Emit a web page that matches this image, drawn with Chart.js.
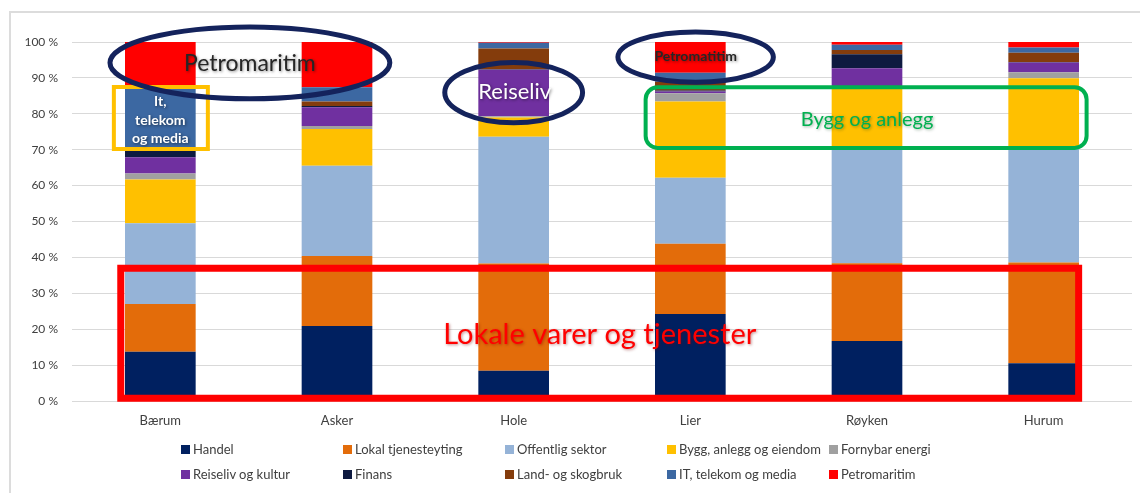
<!DOCTYPE html>
<html>
<head>
<meta charset="utf-8">
<script src="https://cdn.jsdelivr.net/npm/chart.js@4"></script>
<style>
  html, body { margin: 0; padding: 0; background: #ffffff; }
  #wrap { position: relative; width: 1140px; height: 493px; overflow: hidden; }
  #c { position: absolute; left: 0; top: 0; }
  #legend { position: absolute; left: 0; top: 0; width: 1140px; height: 493px; pointer-events: none; }
  .li { position: absolute; display: flex; align-items: center; font-family: Lato, "Open Sans", sans-serif; font-size: 13px; color: #404040; white-space: nowrap; height: 16px; }
  .li .bx { width: 9px; height: 9px; margin-right: 3px; flex: none; }
</style>
</head>
<body>
<div id="wrap">
  <canvas id="c" width="1140" height="493"></canvas>
  <div id="legend"></div>
</div>
<script>
// ---- Data (percent share of employment per sector) ----
const categories = ['Bærum', 'Asker', 'Hole', 'Lier', 'Røyken', 'Hurum'];
const yTicks = [0, 10, 20, 30, 40, 50, 60, 70, 80, 90, 100];

const handel    = [13.7, 20.9,  8.4, 24.2, 16.7, 10.5];
const lokal     = [13.3, 19.5, 29.9, 19.6, 21.7, 28.1];
const offentlig = [22.5, 25.1, 35.3, 18.4, 32.6, 31.8];
const bygg      = [12.2, 10.3,  5.4, 21.2, 16.5, 19.5];
const fornybar  = [ 1.7,  0.8,  0.3,  2.3,  0.2,  1.7];
const reiseliv  = [ 4.5,  5.2, 13.0,  0.5,  5.0,  2.7];
const finans    = [ 2.0,  0.4,  0.1,  0.3,  3.9,  0.1];
const land      = [ 0.4,  1.2,  5.8,  2.4,  1.2,  2.6];
const it        = [17.1,  4.0,  1.6,  2.5,  1.4,  1.5];
const petro     = [12.6, 12.6,  0.2,  8.6,  0.8,  1.5];

const seriesNames = ['Handel', 'Lokal tjenesteyting', 'Offentlig sektor', 'Bygg, anlegg og eiendom', 'Fornybar energi',
                     'Reiseliv og kultur', 'Finans', 'Land- og skogbruk', 'IT, telekom og media', 'Petromaritim'];
const seriesValues = [handel, lokal, offentlig, bygg, fornybar, reiseliv, finans, land, it, petro];
const seriesColors = ['#002060', '#E36C0A', '#95B3D7', '#FFC000', '#A0A0A0',
                      '#7030A0', '#0E1A40', '#843C0C', '#3C68A2', '#FF0000'];

// Annotation texts
const noteTexts = {
  petroBig: 'Petromaritim',
  it: ['It,', 'telekom', 'og media'],
  reiseliv: 'Reiseliv',
  petroLier: 'Petromatitim',
  bygg: 'Bygg og anlegg',
  lokale: 'Lokale varer og tjenester'
};

const FONT = 'Lato, "Open Sans", sans-serif';

const framePlugin = {
  id: 'frame',
  beforeDraw(chart) {
    const ctx = chart.ctx;
    ctx.save();
    ctx.strokeStyle = '#dcdcdc';
    ctx.lineWidth = 2;
    ctx.beginPath();
    ctx.moveTo(10, 500);
    ctx.lineTo(10, 12);
    ctx.lineTo(1150, 12);
    ctx.stroke();
    ctx.restore();
  }
};

const notesPlugin = {
  id: 'notes',
  afterDatasetsDraw(chart) {
    const ctx = chart.ctx;
    const xs = chart.scales.x, ys = chart.scales.y;
    const X = i => xs.getPixelForValue(i);
    const Y = v => ys.getPixelForValue(v);
    const cw = X(1) - X(0);
    const pu = Math.abs(Y(0) - Y(1));

    function ellipse(ci, cv, rxc, ryv, color, lw) {
      ctx.save();
      ctx.strokeStyle = color; ctx.lineWidth = lw;
      ctx.beginPath();
      ctx.ellipse(X(ci), Y(cv), rxc * cw, ryv * pu, 0, 0, Math.PI * 2);
      ctx.stroke();
      ctx.restore();
    }
    function rect(i0, i1, v0, v1, color, lw, r) {
      const x0 = X(i0), x1 = X(i1), y0 = Y(v0), y1 = Y(v1);
      ctx.save();
      ctx.strokeStyle = color; ctx.lineWidth = lw;
      ctx.beginPath();
      if (r) ctx.roundRect(x0, y0, x1 - x0, y1 - y0, r); else ctx.rect(x0, y0, x1 - x0, y1 - y0);
      ctx.stroke();
      ctx.restore();
    }
    function text(t, ci, cv, size, color, weight, shadow) {
      ctx.save();
      ctx.font = (weight || 'normal') + ' ' + size + 'px ' + FONT;
      ctx.fillStyle = color;
      ctx.textAlign = 'center';
      ctx.textBaseline = 'middle';
      if (shadow) {
        ctx.shadowColor = shadow;
        ctx.shadowBlur = 3;
        ctx.shadowOffsetX = 1;
        ctx.shadowOffsetY = 1;
      }
      ctx.fillText(t, X(ci), Y(cv));
      ctx.restore();
    }

    // Lokale varer og tjenester (red box)
    rect(-0.224, 5.198, 37.0, 0.8, '#FF0000', 7, 0);
    text(noteTexts.lokale, 2.487, 18.4, 29, '#FF0000', 'normal', 'rgba(120,0,0,0.45)');

    // Bygg og anlegg (green rounded box)
    rect(2.747, 5.243, 87.4, 70.5, '#00B050', 4, 12);
    text(noteTexts.bygg, 4.0, 78.3, 20, '#00B050', 'normal', 'rgba(0,60,20,0.4)');

    // IT box
    rect(-0.263, 0.269, 87.5, 70.2, '#FFC000', 4, 0);
    text(noteTexts.it[0], 0.0, 83.4, 14, '#ffffff', 'bold', 'rgba(0,0,0,0.5)');
    text(noteTexts.it[1], 0.0, 78.1, 14, '#ffffff', 'bold', 'rgba(0,0,0,0.5)');
    text(noteTexts.it[2], 0.0, 73.0, 14, '#ffffff', 'bold', 'rgba(0,0,0,0.5)');

    // Petromaritim ellipse (Bærum/Asker)
    ellipse(0.507, 94.2, 0.792, 10.0, '#14235C', 5);
    text(noteTexts.petroBig, 0.507, 94.0, 23, '#262626', 'normal', 'rgba(0,0,0,0.45)');

    // Reiseliv ellipse (Hole)
    ellipse(2.0, 85.9, 0.39, 8.4, '#14235C', 5);
    text(noteTexts.reiseliv, 2.006, 86.1, 22, '#ffffff', 'normal', 'rgba(0,0,0,0.5)');

    // Petromatitim ellipse (Lier)
    ellipse(3.03, 95.8, 0.44, 7.0, '#14235C', 5);
    text(noteTexts.petroLier, 3.03, 95.9, 14, '#262626', 'bold', 'rgba(0,0,0,0.45)');
  }
};

const chart = new Chart(document.getElementById('c'), {
  type: 'bar',
  data: {
    labels: categories,
    datasets: seriesNames.map((name, k) => ({
      label: name,
      data: seriesValues[k],
      backgroundColor: seriesColors[k],
      borderWidth: 0,
      categoryPercentage: 1.0,
      barPercentage: 0.40
    }))
  },
  options: {
    responsive: false,
    animation: false,
    devicePixelRatio: 1,
    layout: { padding: { left: 0, right: 8, top: 42, bottom: 62 } },
    plugins: {
      legend: { display: false },
      tooltip: { enabled: false },
      title: { display: false }
    },
    scales: {
      x: {
        stacked: true,
        grid: { display: false, drawTicks: false },
        border: { display: false },
        ticks: { color: '#404040', font: { family: FONT, size: 13 }, padding: 12 },
        afterFit(s) { s.height = 30; }
      },
      y: {
        stacked: true,
        min: 0, max: 100,
        afterBuildTicks(s) { s.ticks = yTicks.map(v => ({ value: v })); },
        grid: { color: '#d9d9d9', lineWidth: 1, drawTicks: false },
        border: { display: false },
        ticks: { color: '#404040', font: { family: FONT, size: 12 }, padding: 14, callback: v => v + ' %' },
        afterFit(s) { s.width = 72; }
      }
    }
  },
  plugins: [framePlugin, notesPlugin]
});

// ---- HTML legend built from the chart's datasets (5 columns x 2 rows) ----
(function buildLegend() {
  const lg = document.getElementById('legend');
  chart.data.datasets.forEach((ds, k) => {
    const col = k % 5, row = Math.floor(k / 5);
    const d = document.createElement('div');
    d.className = 'li';
    d.style.left = (181 + 162 * col) + 'px';
    d.style.top = (441 + 25 * row) + 'px';
    const b = document.createElement('span');
    b.className = 'bx';
    b.style.background = ds.backgroundColor;
    const t = document.createElement('span');
    t.textContent = ds.label;
    d.appendChild(b); d.appendChild(t);
    lg.appendChild(d);
  });
})();
</script>
</body>
</html>
